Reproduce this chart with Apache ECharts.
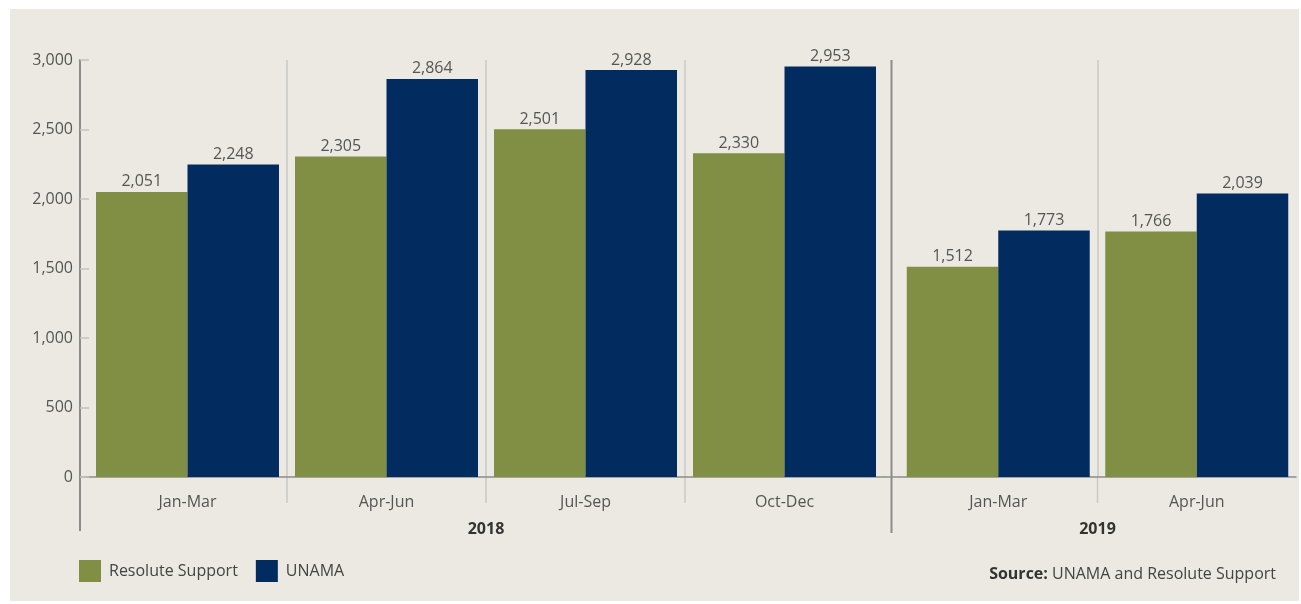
<!DOCTYPE html>
<html>
<head>
<meta charset="utf-8">
<script src="https://cdn.jsdelivr.net/npm/echarts@6/dist/echarts.min.js"></script>
<style>
  html, body { margin: 0; padding: 0; background: #ffffff; }
  #bg { position: absolute; left: 10px; top: 9px; width: 1289px; height: 592px; background: #ebe9e2; }
  #chart { position: absolute; left: 0; top: 0; width: 1301px; height: 604px; }
</style>
</head>
<body>
<div id="bg"></div>
<div id="chart"></div>
<script>
// ---- Data ----
const quarters2018 = ['Jan-Mar', 'Apr-Jun', 'Jul-Sep', 'Oct-Dec'];
const quarters2019 = ['Jan-Mar', 'Apr-Jun'];
const years = ['2018', '2019'];
const seriesNames = ['Resolute Support', 'UNAMA'];
const resolute2018 = [2051, 2305, 2501, 2330];
const unama2018 = [2248, 2864, 2928, 2953];
const resolute2019 = [1512, 1766];
const unama2019 = [1773, 2039];
const yTicks = [0, 500, 1000, 1500, 2000, 2500, 3000];

// ---- Style ----
const FONT = '"Open Sans", "Noto Sans", sans-serif';
const GREEN = '#808f43';
const NAVY = '#022c5f';
const TEXT = '#555555';
const AXIS = '#8c8c8c';
const SEP = '#c9c9c6';

const fmt = v => Number(v).toLocaleString('en-US');

const chart = echarts.init(document.getElementById('chart'), null, { renderer: 'canvas' });

const valueLabel = {
  show: true, position: 'top', distance: 2,
  color: TEXT, fontFamily: FONT, fontSize: 16,
  formatter: p => fmt(p.value)
};

function quarterAxis(gridIndex, data) {
  return {
    type: 'category', gridIndex: gridIndex, data: data, position: 'bottom',
    axisLine: { show: true, lineStyle: { color: AXIS, width: 1.5 } },
    axisTick: { show: false },
    axisLabel: { color: TEXT, fontFamily: FONT, fontSize: 16, margin: 17 },
    splitLine: { show: true, showMinLine: false, showMaxLine: false, lineStyle: { color: SEP, width: 1.5 } }
  };
}
function yearAxis(gridIndex, label) {
  return {
    type: 'category', gridIndex: gridIndex, data: [label], position: 'bottom',
    axisLine: { show: false }, axisTick: { show: false }, splitLine: { show: false },
    axisLabel: { color: '#333333', fontFamily: FONT, fontSize: 16, fontWeight: 'bold', margin: 44 }
  };
}

const option = {
  animation: false,
  backgroundColor: 'transparent',
  grid: [
    { left: 88, right: 1301 - 884, top: 60, bottom: 127 },
    { left: 899, right: 1301 - 1296, top: 60, bottom: 127 }
  ],
  xAxis: [
    quarterAxis(0, quarters2018),
    quarterAxis(1, quarters2019),
    yearAxis(0, years[0]),
    yearAxis(1, years[1])
  ],
  yAxis: [
    {
      type: 'value', gridIndex: 0, min: yTicks[0], max: yTicks[yTicks.length - 1], interval: 500,
      offset: 8,
      axisLine: { show: true, lineStyle: { color: AXIS, width: 2 } },
      axisTick: { show: true, inside: true, length: 9, lineStyle: { color: '#c4c4c0', width: 1.5 } },
      axisLabel: { color: TEXT, fontFamily: FONT, fontSize: 16, margin: 7, formatter: v => fmt(v) },
      splitLine: { show: false }
    },
    {
      type: 'value', gridIndex: 1, min: yTicks[0], max: yTicks[yTicks.length - 1], interval: 500,
      axisLine: { show: false }, axisTick: { show: false }, axisLabel: { show: false }, splitLine: { show: false }
    }
  ],
  legend: {
    left: 79, top: 560, padding: 0,
    itemWidth: 22, itemHeight: 22, itemGap: 18, icon: 'rect',
    data: seriesNames,
    textStyle: { color: '#444444', fontFamily: FONT, fontSize: 16, padding: [0, 0, 0, 3] }
  },
  series: [
    { name: seriesNames[0], type: 'bar', xAxisIndex: 0, yAxisIndex: 0, data: resolute2018, barWidth: 91.5, barGap: '0%', itemStyle: { color: GREEN }, label: valueLabel },
    { name: seriesNames[1], type: 'bar', xAxisIndex: 0, yAxisIndex: 0, data: unama2018, barWidth: 91.5, barGap: '0%', itemStyle: { color: NAVY }, label: valueLabel },
    { name: seriesNames[0], type: 'bar', xAxisIndex: 1, yAxisIndex: 1, data: resolute2019, barWidth: 91.5, barGap: '0%', itemStyle: { color: GREEN }, label: valueLabel },
    { name: seriesNames[1], type: 'bar', xAxisIndex: 1, yAxisIndex: 1, data: unama2019, barWidth: 91.5, barGap: '0%', itemStyle: { color: NAVY }, label: valueLabel }
  ]
};
chart.setOption(option);

// Separators extending below the axis, the year divider and the y-axis extension
const y0 = chart.convertToPixel({ yAxisIndex: 0 }, 0);
const yTop = chart.convertToPixel({ yAxisIndex: 0 }, yTicks[yTicks.length - 1]);
const c0 = quarters2018.map((q, i) => chart.convertToPixel({ xAxisIndex: 0 }, i));
const c1 = quarters2019.map((q, i) => chart.convertToPixel({ xAxisIndex: 1 }, i));
const graphics = [];
const tickLine = x => ({ type: 'line', shape: { x1: x, y1: y0, x2: x, y2: y0 + 26 }, style: { stroke: SEP, lineWidth: 1.5 }, silent: true });
for (let i = 0; i < c0.length - 1; i++) graphics.push(tickLine((c0[i] + c0[i + 1]) / 2));
for (let i = 0; i < c1.length - 1; i++) graphics.push(tickLine((c1[i] + c1[i + 1]) / 2));
const band0 = c0[1] - c0[0], band1 = c1[1] - c1[0];
const end0 = c0[c0.length - 1] + band0 / 2, start1 = c1[0] - band1 / 2;
const yearX = (end0 + start1) / 2;
graphics.push({ type: 'line', shape: { x1: end0, y1: y0, x2: start1, y2: y0 }, style: { stroke: AXIS, lineWidth: 1.5 }, silent: true });
graphics.push({ type: 'line', shape: { x1: yearX, y1: yTop, x2: yearX, y2: y0 + 56 }, style: { stroke: AXIS, lineWidth: 2 }, silent: true });
graphics.push({ type: 'line', shape: { x1: 80, y1: y0, x2: 80, y2: y0 + 54 }, style: { stroke: AXIS, lineWidth: 2 }, silent: true });
graphics.push({ type: 'line', shape: { x1: 80, y1: y0, x2: 88, y2: y0 }, style: { stroke: AXIS, lineWidth: 1.5 }, silent: true });
graphics.push({
  type: 'text', right: 1301 - 1276, top: 566, silent: true,
  style: {
    text: '{b|Source:} UNAMA and Resolute Support',
    fontFamily: FONT, fontSize: 16, fill: '#444444',
    rich: { b: { fontFamily: FONT, fontSize: 16, fontWeight: 'bold', fill: '#333333' } }
  }
});
chart.setOption({ graphic: graphics });
</script>
</body>
</html>
